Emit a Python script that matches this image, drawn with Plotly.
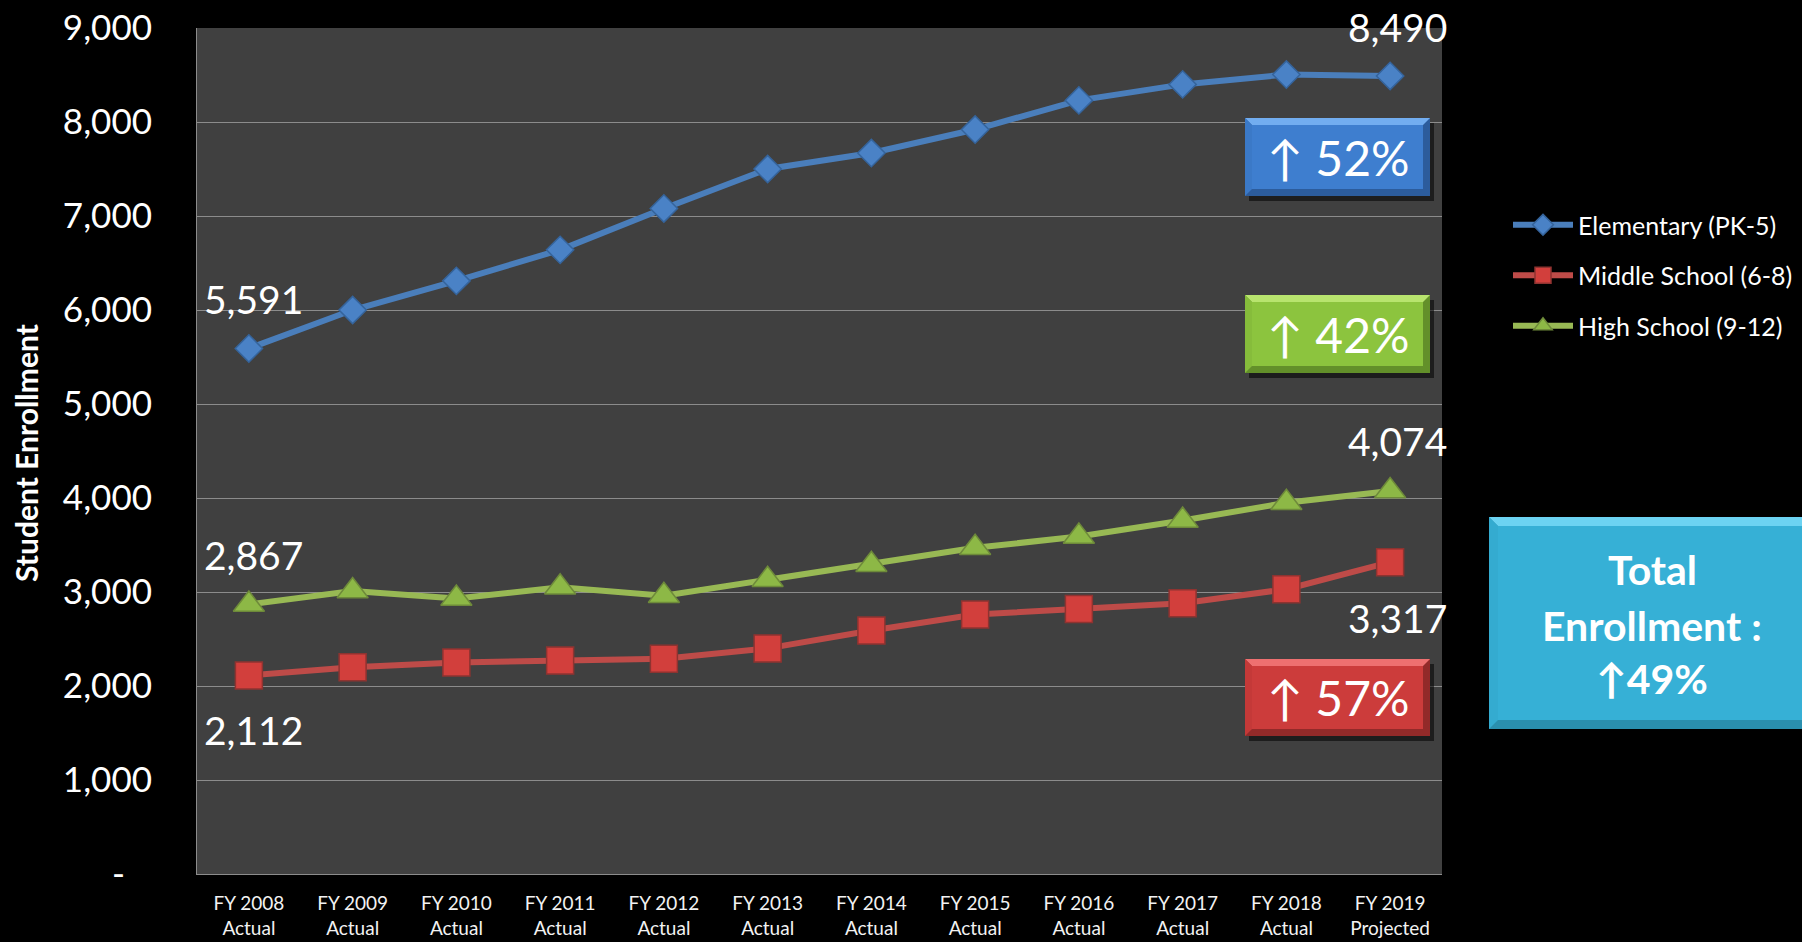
import plotly.graph_objects as go

# ---------------- data ----------------
categories = ["FY 2008<br>Actual", "FY 2009<br>Actual", "FY 2010<br>Actual", "FY 2011<br>Actual",
              "FY 2012<br>Actual", "FY 2013<br>Actual", "FY 2014<br>Actual", "FY 2015<br>Actual",
              "FY 2016<br>Actual", "FY 2017<br>Actual", "FY 2018<br>Actual", "FY 2019<br>Projected"]
elementary = [5591, 6000, 6310, 6640, 7080, 7500, 7670, 7920, 8230, 8400, 8505, 8490]
middle = [2112, 2200, 2250, 2270, 2290, 2400, 2590, 2760, 2820, 2880, 3030, 3317]
high = [2867, 3010, 2930, 3050, 2960, 3130, 3290, 3470, 3590, 3760, 3950, 4074]
series_names = ["Elementary (PK-5)", "Middle School (6-8)", "High School (9-12)"]
y_tickvals = [0, 1000, 2000, 3000, 4000, 5000, 6000, 7000, 8000, 9000]
y_ticktext = ["-\u00a0\u00a0\u00a0", "1,000", "2,000", "3,000", "4,000", "5,000",
              "6,000", "7,000", "8,000", "9,000"]
growth_labels = ["\u2191 52%", "\u2191 57%", "\u2191 42%"]
total_lines = ["Total", "Enrollment :", "\u219149%"]

FONT = "Lato, 'Open Sans', sans-serif"
W, H = 1802, 942
L, R, T, B = 197, 360, 28, 68
PW, PH = W - L - R, H - T - B


def px(x):
    return (x - L) / PW


def py(y):
    return (H - B - y) / PH


fig = go.Figure()

styles = [
    dict(color="#4A7EBB", symbol="diamond", size=21, mline="#35649C"),
    dict(color="#BE4B48", symbol="square", size=27, mline="#8E3330"),
    dict(color="#98B954", symbol="triangle-up", size=27, mline="#6E8A3A"),
]
marker_fill = ["#4A82C6", "#D23F3C", "#8DB846"]
for i, (name, vals) in enumerate(zip(series_names, [elementary, middle, high])):
    st = styles[i]
    fig.add_trace(go.Scatter(
        x=categories, y=vals, name=name, mode="lines+markers",
        legendgroup=name,
        line=dict(color=st["color"], width=6),
        marker=dict(symbol=st["symbol"], size=st["size"], color=marker_fill[i],
                    line=dict(color=st["mline"], width=1.5)),
        hoverinfo="skip",
    ))

# data labels (first and last values)
label_specs = [
    (elementary, 0, 49, 5), (elementary, 11, 49, 7),
    (high, 0, 50, 5), (high, 11, 50, 7),
    (middle, 0, -55, 5), (middle, 11, -56, 7),
]
for vals, idx, ys, xs in label_specs:
    fig.add_annotation(x=categories[idx], y=vals[idx], xref="x", yref="y",
                       text=f"{vals[idx]:,}", showarrow=False,
                       xanchor="center", yanchor="middle",
                       yshift=ys, xshift=xs,
                       font=dict(family=FONT, size=39, color="#FFFFFF"))

# growth boxes
boxes = [
    ((1245, 118, 1430, 196), "#3E7ECF", "#72ADF0", "#2C5C9C", growth_labels[0]),
    ((1245, 659, 1430, 736), "#CC3C3B", "#EE7070", "#922A29", growth_labels[1]),
    ((1245, 295, 1430, 373), "#8CC43E", "#B8E46E", "#63902A", growth_labels[2]),
]
shapes = []


def bevel_box(x0, y0, x1, y1, mid, top, bot, edge=7):
    shapes.append(dict(type="rect", xref="paper", yref="paper", x0=px(x0 + 4), x1=px(x1 + 4),
                       y0=py(y1 + 5), y1=py(y0 + 5), fillcolor="rgba(0,0,0,0.55)",
                       line=dict(width=0), layer="above"))
    shapes.append(dict(type="rect", xref="paper", yref="paper", x0=px(x0), x1=px(x1),
                       y0=py(y1), y1=py(y0), fillcolor=bot, line=dict(width=0), layer="above"))
    shapes.append(dict(type="path", xref="paper", yref="paper",
                       path=f"M {px(x0)},{py(y0)} L {px(x1)},{py(y0)} L {px(x1 - edge)},{py(y0 + edge)} "
                            f"L {px(x0 + edge)},{py(y0 + edge)} Z",
                       fillcolor=top, line=dict(width=0), layer="above"))
    shapes.append(dict(type="path", xref="paper", yref="paper",
                       path=f"M {px(x0)},{py(y0)} L {px(x0 + edge)},{py(y0 + edge)} L {px(x0 + edge)},{py(y1 - edge)} "
                            f"L {px(x0)},{py(y1)} Z",
                       fillcolor=mid, line=dict(width=0), layer="above", opacity=0.85))
    shapes.append(dict(type="rect", xref="paper", yref="paper", x0=px(x0 + edge), x1=px(x1 - edge),
                       y0=py(y1 - edge), y1=py(y0 + edge), fillcolor=mid, line=dict(width=0),
                       layer="above"))


for (x0, y0, x1, y1), mid, top, bot, lab in boxes:
    bevel_box(x0, y0, x1, y1, mid, top, bot)
    fig.add_annotation(x=px((x0 + x1) / 2), y=py((y0 + y1) / 2), xref="paper", yref="paper",
                       xanchor="center", yanchor="middle",
                       text=lab, showarrow=False,
                       font=dict(family=FONT, size=48, color="#FFFFFF"))

# total box
bevel_box(1489, 517, 1812, 729, "#36B0D6", "#6CD3F2", "#2A8FAE", edge=9)
for txt, yc in zip(total_lines, [569, 625, 678]):
    fig.add_annotation(x=px(1652), y=py(yc), xref="paper", yref="paper", text=f"<b>{txt}</b>",
                       xanchor="center", yanchor="middle",
                       showarrow=False, font=dict(family=FONT, size=41, color="#FFFFFF"))

# y-axis title
fig.add_annotation(x=px(26), y=py(453), xref="paper", yref="paper", text="<b>Student Enrollment</b>",
                   xanchor="center", yanchor="middle",
                   textangle=-90, showarrow=False, font=dict(family=FONT, size=30, color="#FFFFFF"))

fig.update_layout(
    width=W, height=H, autosize=False,
    paper_bgcolor="#000000", plot_bgcolor="#404040",
    margin=dict(l=L, r=R, t=T, b=B, pad=0, autoexpand=False),
    font=dict(family=FONT, color="#FFFFFF"),
    shapes=shapes,
    showlegend=True,
    legend=dict(x=px(1508), y=py(202), xanchor="left", yanchor="top",
                bgcolor="rgba(0,0,0,0)", font=dict(family=FONT, size=25, color="#FFFFFF"),
                itemwidth=60, tracegroupgap=15, traceorder="grouped"),
    xaxis=dict(type="category", range=[-0.5, 11.5], showgrid=False, showline=True,
               linecolor="#8C8C8C", linewidth=1, ticks="", tickangle=0, automargin=False,
               ticklabelstandoff=12,
               tickfont=dict(family=FONT, size=19, color="#F2F2F2"), fixedrange=True),
    yaxis=dict(range=[0, 9000], tickvals=y_tickvals, ticktext=y_ticktext, automargin=False,
               showgrid=True, gridcolor="#8C8C8C", gridwidth=1, zeroline=False,
               showline=True, linecolor="#8C8C8C", linewidth=1, ticks="",
               ticklabelstandoff=37,
               tickfont=dict(family=FONT, size=35, color="#FFFFFF"), fixedrange=True),
)

fig.write_html("out.html")
